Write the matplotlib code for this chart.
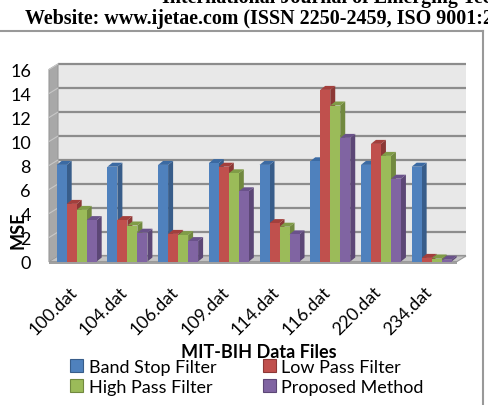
import matplotlib.pyplot as plt
import numpy as np
from matplotlib.patches import Polygon, Patch, Rectangle
from matplotlib.lines import Line2D
from matplotlib.transforms import ScaledTranslation

# Data
files = ["100.dat", "104.dat", "106.dat", "109.dat", "114.dat", "116.dat", "220.dat", "234.dat"]
band_stop = [8.05, 7.9, 8.05, 8.2, 8.05, 8.35, 8.05, 7.9]
low_pass = [4.8, 3.45, 2.3, 7.9, 3.2, 14.3, 9.8, 0.3]
high_pass = [4.3, 3.0, 2.2, 7.35, 2.9, 13.0, 8.8, 0.25]
proposed = [3.45, 2.4, 1.7, 5.85, 2.26, 10.3, 6.9, 0.15]
series = ["Band Stop Filter", "Low Pass Filter", "High Pass Filter", "Proposed Method"]
yticks = [0, 2, 4, 6, 8, 10, 12, 14, 16]

front = ["#4F81BD", "#C0504D", "#9BBB59", "#8064A2"]
side = ["#385D8A", "#8C3836", "#71893F", "#5C4776"]
top = ["#3B6AA3", "#A33F3C", "#809C47", "#6A528A"]

plt.rcParams["font.family"] = ["Lato", "DejaVu Sans"]

W, H = 488, 406
fig = plt.figure(figsize=(W / 100, H / 100), dpi=100)

# axes = front plane of the 3D chart (pixel layout)
x_lo, x_hi = -0.546, 7.5
ax = fig.add_axes([49 / W, (H - 262.5) / H, 408 / W, 192 / H])
ax.set_xlim(x_lo, x_hi)
ax.set_ylim(0, 16)
for s in ax.spines.values():
    s.set_visible(False)
ax.patch.set_visible(False)

px_x = (x_hi - x_lo) / 408  # data units per pixel
px_y = 16 / 192

# back wall, left wall, floor
bdx, bdy = 9 * px_x, 5.5 * px_y
ax.add_patch(Polygon([(x_lo + bdx, bdy), (x_hi + bdx, bdy), (x_hi + bdx, 16 + bdy),
                      (x_lo + bdx, 16 + bdy)], closed=True, fc="#E8E8E8", ec="none",
                     clip_on=False, zorder=0))
ax.add_patch(Polygon([(x_lo, 0), (x_lo + bdx, bdy), (x_lo + bdx, 16 + bdy), (x_lo, 16)],
                     closed=True, fc="#A8A8A8", ec="#999999", lw=0.8, clip_on=False, zorder=0.5))
for v in yticks:
    ax.plot([x_lo + bdx, x_hi + bdx], [v + bdy, v + bdy], color="#8C8C8C", lw=1.6,
            clip_on=False, zorder=1, solid_capstyle="butt")
    ax.plot([x_lo, x_lo + bdx], [v, v + bdy], color="#C8C8C8", lw=0.8, clip_on=False, zorder=1)
ax.add_patch(Polygon([(x_lo, 0), (x_hi, 0), (x_hi + bdx, bdy), (x_lo + bdx, bdy)],
                     closed=True, fc="#C4C4C4", ec="#9A9A9A", lw=0.8, clip_on=False, zorder=1.5))
ax.add_patch(Rectangle((x_lo, -2.5 * px_y), x_hi - x_lo, 2.5 * px_y, fc="#A0A0A0",
                       ec="none", clip_on=False, zorder=1.5))

# 3D-looking bars
bw = 10 * px_x
ddx, ddy = 5 * px_x, 4 * px_y
idx = np.arange(len(files))
z = 2
for i in idx:
    for k, vals in enumerate([band_stop, low_pass, high_pass, proposed]):
        x0 = i + (k - 2) * bw
        h = vals[i]
        ax.add_patch(Polygon([(x0 + bw, 0), (x0 + bw, h), (x0 + bw + ddx, h + ddy),
                              (x0 + bw + ddx, ddy)], closed=True, fc=side[k], ec="none",
                             zorder=z, clip_on=False))
        ax.add_patch(Polygon([(x0, h), (x0 + bw, h), (x0 + bw + ddx, h + ddy),
                              (x0 + ddx, h + ddy)], closed=True, fc=top[k], ec="none",
                             zorder=z, clip_on=False))
        ax.bar(x0, h, bw, align="edge", color=front[k], edgecolor="none", zorder=z + 0.5,
               clip_on=False)
        z += 1

ax.set_yticks(yticks)
ax.set_yticklabels([str(v) for v in yticks], fontsize=13)
ax.set_xticks(idx)
ax.set_xticklabels(files, rotation=45, ha="right", va="top", rotation_mode="anchor",
                   fontsize=12.8)
ax.tick_params(axis="both", length=0)
ax.tick_params(axis="y", pad=13)
ax.tick_params(axis="x", pad=14)
shift = ScaledTranslation(-8 / 100, -2 / 100, fig.dpi_scale_trans)
for lab in ax.get_xticklabels():
    lab.set_transform(lab.get_transform() + shift)

fig.text(18 / W, 1 - 230 / H, "MSE", rotation=90, fontsize=13, fontweight="bold",
         ha="center", va="center")
fig.text(259 / W, 1 - 352 / H, "MIT-BIH Data Files", fontsize=13, fontweight="bold",
         ha="center", va="center")

# legend filled row by row like the original
order = [0, 2, 1, 3]
handles = [Patch(fc=front[k], ec=side[k], lw=0.8) for k in order]
fig.legend(handles, [series[k] for k in order], ncol=2, loc="center",
           bbox_to_anchor=(247 / W, 1 - 378 / H), frameon=False, fontsize=13,
           handlelength=0.7, handleheight=0.7, handletextpad=0.3, columnspacing=2.6,
           labelspacing=0.22, borderpad=0)

# page header and frame around the figure
fig.text(162 / W, 1 - 3 / H, "International Journal of Emerging Technology",
         family="Liberation Serif", fontweight="bold", fontsize=14.4, va="baseline")
fig.text(25 / W, 1 - 19 / H, "Website: www.ijetae.com (ISSN 2250-2459, ISO 9001:2008",
         family="Liberation Serif", fontweight="bold", fontsize=14.4, va="center")
fig.add_artist(Line2D([0, 483 / W], [1 - 31.5 / H] * 2, color="#999999", lw=1.5))
fig.add_artist(Line2D([483 / W] * 2, [0, 1 - 31.5 / H], color="#999999", lw=1.5))

fig.savefig("out.png", dpi=100)
